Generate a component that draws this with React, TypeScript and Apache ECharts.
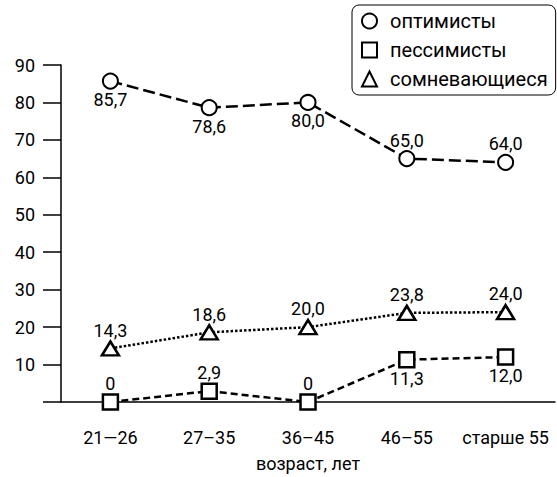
import React, { useEffect, useRef } from "react";
import * as echarts from "echarts";

const categories = ["21—26", "27–35", "36–45", "46–55", "старше 55"];
const optimists = [85.7, 78.6, 80.0, 65.0, 64.0];
const pessimists = [0, 2.9, 0, 11.3, 12.0];
const doubters = [14.3, 18.6, 20.0, 23.8, 24.0];
const seriesNames = ["оптимисты", "пессимисты", "сомневающиеся"];
const yTicks = [0, 10, 20, 30, 40, 50, 60, 70, 80, 90];

const optSide = ["bottom", "bottom", "bottom", "top", "top"];
const pesSide = ["top", "top", "top", "bottom", "bottom"];
const douSide = ["top", "top", "top", "top", "top"];

const FONT = "Roboto, 'Liberation Sans', sans-serif";

const fmt = (v: number) => (v === 0 ? "0" : v.toFixed(1).replace(".", ","));

function mk(values: number[], sides: string[]) {
  return values.map((v, i) => ({ value: v, label: { position: sides[i] } }));
}

export default function App() {
  const ref = useRef<HTMLDivElement>(null);
  useEffect(() => {
    if (!ref.current) return;
    const chart = echarts.init(ref.current, null, { renderer: "svg" });
    const baseItem = { color: "#fff", borderColor: "#000", borderWidth: 2 };
    const label = {
      show: true,
      fontFamily: FONT,
      fontSize: 18,
      color: "#000",
      distance: 1,
      formatter: (p: any) => fmt(p.value),
    };
    chart.setOption({
      animation: false,
      backgroundColor: "#fff",
      textStyle: { fontFamily: FONT, color: "#000" },
      grid: { left: 61, right: 2, top: 65, bottom: 73, containLabel: false },
      legend: {
        orient: "vertical",
        left: 352,
        top: 5,
        padding: [6, 8, 6, 9],
        itemGap: 9,
        itemWidth: 15,
        itemHeight: 15,
        borderColor: "#000",
        borderWidth: 1,
        borderRadius: 7,
        backgroundColor: "#fff",
        formatter: (name: string) => "{t|" + name + "}",
        textStyle: {
          fontFamily: FONT,
          fontSize: 20,
          color: "#000",
          rich: { t: { fontFamily: FONT, fontSize: 20, color: "#000", padding: [0, 0, 0, 8] } },
        },
        data: [
          { name: seriesNames[0], icon: "circle" },
          { name: seriesNames[1], icon: "rect" },
          { name: seriesNames[2], icon: "triangle" },
        ],
      },
      xAxis: {
        type: "category",
        data: categories,
        boundaryGap: true,
        name: "возраст, лет",
        nameLocation: "middle",
        nameGap: 52,
        nameTextStyle: { fontFamily: FONT, fontSize: 18, color: "#000" },
        axisLine: { lineStyle: { color: "#000", width: 1.5 } },
        axisTick: { alignWithLabel: true, length: 14, lineStyle: { color: "#000", width: 1.5 } },
        axisLabel: { fontFamily: FONT, fontSize: 18, color: "#000", margin: 26, interval: 0 },
        splitLine: { show: false },
      },
      yAxis: {
        type: "value",
        min: yTicks[0],
        max: yTicks[yTicks.length - 1],
        interval: 10,
        axisLine: { show: true, lineStyle: { color: "#000", width: 1.5 } },
        axisTick: { show: true, inside: false, length: 18, lineStyle: { color: "#000", width: 1.5 } },
        axisLabel: {
          fontFamily: FONT,
          fontSize: 18,
          color: "#000",
          margin: 26,
          formatter: (v: number) => (v === 0 ? "" : String(v)),
        },
        splitLine: { show: false },
      },
      series: [
        {
          name: seriesNames[0],
          type: "line",
          data: mk(optimists, optSide),
          symbol: "circle",
          symbolSize: 15,
          itemStyle: baseItem,
          lineStyle: { color: "#000", width: 2.5, type: [12, 5] },
          label,
          z: 3,
        },
        {
          name: seriesNames[1],
          type: "line",
          data: mk(pessimists, pesSide),
          symbol: "rect",
          symbolSize: 15,
          itemStyle: { ...baseItem, borderWidth: 2.5 },
          lineStyle: { color: "#000", width: 2.5, type: [7, 4] },
          label,
          z: 3,
        },
        {
          name: seriesNames[2],
          type: "line",
          data: mk(doubters, douSide),
          symbol: "triangle",
          symbolSize: [17, 14],
          itemStyle: { ...baseItem, borderWidth: 2.5 },
          lineStyle: { color: "#000", width: 2.5, type: [2.5, 2] },
          label,
          z: 3,
        },
      ],
    });
    return () => chart.dispose();
  }, []);
  return (
    <div
      ref={ref}
      style={{ position: "fixed", left: 0, top: 0, width: 557, height: 477 }}
    />
  );
}
